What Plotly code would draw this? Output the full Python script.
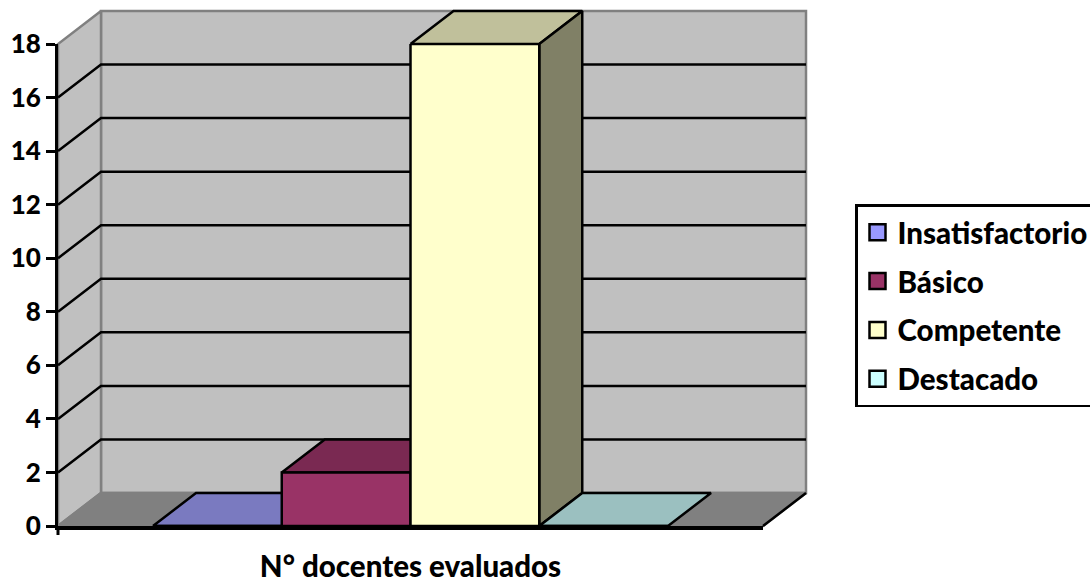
import plotly.graph_objects as go

# Data
axis_label = "N° docentes evaluados"
series_names = ["Insatisfactorio", "Básico", "Competente", "Destacado"]
series_values = [0, 2, 18, 0]
front_colors = ["#9999ff", "#993366", "#ffffcc", "#ccffff"]
top_colors = ["#7a7ac0", "#7a2952", "#c0c09b", "#9bc0c0"]
side_colors = ["#4d4d80", "#4d1a33", "#808066", "#668080"]
y_ticks = [0, 2, 4, 6, 8, 10, 12, 14, 16, 18]

# Layout geometry (pixels in the 1090x578 window)
W, H = 1090, 578
X0, X1 = 58, 763
Y0, Y18 = 526, 44
DX, DY = 43, 33
UNIT = (Y0 - Y18) / 18
DV = DY / UNIT
BAR_W = 128.75
BARGAP = 1 - 4 * BAR_W / (X1 - X0)
GROUP_L = (X0 + X1) / 2 - 2 * BAR_W
FONT = "Lato, Carlito, Calibri, sans-serif"

fig = go.Figure()


def poly(xs, ys, fill=None, line="black", width=2.5):
    fig.add_trace(go.Scatter(
        x=xs, y=ys, mode="lines", showlegend=False, hoverinfo="skip",
        fill="toself" if fill else None, fillcolor=fill,
        line=dict(color=line, width=width, simplify=False),
        xaxis="x", yaxis="y"))


# walls and floor
vmax = max(y_ticks)
poly([X0 + DX, X1 + DX, X1 + DX, X0 + DX, X0 + DX],
     [DV, DV, vmax + DV, vmax + DV, DV], "#c0c0c0", "#808080")
poly([X0, X0 + DX, X0 + DX, X0, X0],
     [0, DV, vmax + DV, vmax, 0], "#c0c0c0", "#808080")
poly([X0, X0 + DX, X1 + DX, X1, X0], [0, DV, DV, 0, 0], "#808080", "#808080")
poly([X1, X1 + DX], [0, DV])

# single tick below the axis origin
poly([X0, X0], [0, -9 / UNIT], None, "black", 3)

# gridlines
for v in y_ticks[1:-1]:
    poly([X0, X0 + DX, X1 + DX], [v, v + DV, v + DV])

# depth faces of bars
for i, v in enumerate(series_values):
    l = GROUP_L + i * BAR_W
    r = l + BAR_W
    poly([l, r, r + DX, l + DX, l], [v, v, v + DV, v + DV, v], top_colors[i])
    if v > 0:
        poly([r, r + DX, r + DX, r, r], [0, DV, v + DV, v, 0], side_colors[i])

# front faces, on true axes
for i, v in enumerate(series_values):
    fig.add_trace(go.Bar(
        x=[axis_label], y=[v], name=series_names[i], showlegend=False,
        marker=dict(color=front_colors[i], line=dict(color="black", width=2.5)),
        cliponaxis=False, xaxis="x2", yaxis="y2"))

# legend entries
for i, name in enumerate(series_names):
    fig.add_trace(go.Scatter(
        x=[None], y=[None], mode="markers", name=name, legendgroup=name,
        marker=dict(symbol="square", size=16, color=front_colors[i],
                    line=dict(color="black", width=2.5)),
        xaxis="x", yaxis="y"))

bold = dict(family=FONT, color="black", weight=900)
fig.update_layout(
    width=W, height=H, autosize=False,
    margin=dict(l=0, r=0, t=0, b=0, autoexpand=False),
    paper_bgcolor="white", plot_bgcolor="rgba(0,0,0,0)",
    barmode="group", bargap=BARGAP, bargroupgap=0,
    font=dict(size=26, **bold),
    xaxis=dict(domain=[0, 1], range=[0, W], visible=False, fixedrange=True),
    yaxis=dict(domain=[0, 1], range=[(Y0 - H) / UNIT, Y0 / UNIT], visible=False, fixedrange=True),
    xaxis2=dict(domain=[X0 / W, X1 / W], anchor="y2", type="category",
                ticks="", showline=True, linecolor="black", linewidth=3.5,
                showgrid=False, zeroline=False, ticklabelstandoff=12,
                tickfont=dict(size=29.5, **bold)),
    yaxis2=dict(domain=[(H - Y0) / H, (H - Y18) / H], anchor="x2", range=[0, vmax],
                tickvals=y_ticks, ticks="outside", ticklen=9, tickwidth=3,
                tickcolor="black", showline=True, linecolor="black", linewidth=3,
                showgrid=False, zeroline=False,
                tickfont=dict(size=26, **bold)),
    legend=dict(x=855 / W, y=1 - 204 / H, xanchor="left", yanchor="top",
                bgcolor="white", bordercolor="black", borderwidth=2.5,
                tracegroupgap=7.5, traceorder="grouped",
                font=dict(size=29.5, **bold)),
)

fig.write_html("out.html", config={"displayModeBar": False},
               post_script="document.body.style.margin='0';document.body.style.overflow='hidden';")
